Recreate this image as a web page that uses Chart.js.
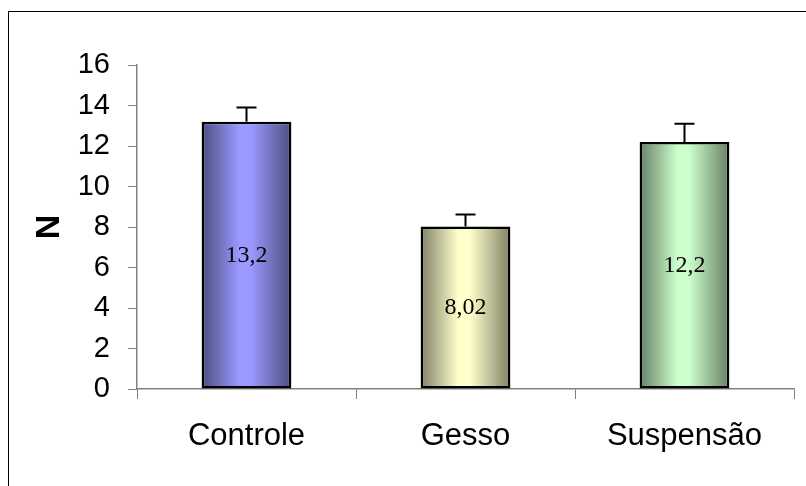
<!DOCTYPE html>
<html lang="pt">
<head>
  <meta charset="UTF-8">
  <title>N por grupo</title>
  <script src="https://cdn.jsdelivr.net/npm/chart.js"></script>
  <style>
    * {
      margin: 0;
      padding: 0;
      box-sizing: border-box;
    }
    body {
      background: white;
      overflow: hidden;
    }
  </style>
</head>
<body>
  <canvas id="forceChart" width="806" height="486"></canvas>

  <script>
    const categories = ["Controle", "Gesso", "Suspensão"];
    const means = [13.2, 8.02, 12.2];
    const errors = [0.7, 0.6, 0.9];
    const yTicks = [0, 2, 4, 6, 8, 10, 12, 14, 16];

    const lightColors = ["#9999FF", "#FFFFCC", "#CCFFCC"];
    const darkColors = ["#4D4D80", "#808066", "#668066"];

    const BAR_FRACTION = 0.41;

    // horizontal gradient, dark at the edges, light near the middle
    function barGradient(c) {
      const chart = c.chart;
      const area = chart.chartArea;
      const i = c.dataIndex;
      if (!area || i === undefined) return lightColors[i] || lightColors[0];
      const cx = chart.scales.x.getPixelForValue(i);
      const half = (area.right - area.left) / categories.length * BAR_FRACTION / 2;
      const g = chart.ctx.createLinearGradient(cx - half, 0, cx + half, 0);
      g.addColorStop(0, darkColors[i]);
      g.addColorStop(0.42, lightColors[i]);
      g.addColorStop(0.55, lightColors[i]);
      g.addColorStop(1, darkColors[i]);
      return g;
    }

    const framePlugin = {
      id: "frame",
      beforeDraw(chart) {
        const ctx = chart.ctx;
        ctx.save();
        ctx.strokeStyle = "#000";
        ctx.lineWidth = 1;
        ctx.strokeRect(8.5, 11.5, 900, 600);
        ctx.restore();
      }
    };

    const errorBarsPlugin = {
      id: "errorBars",
      afterDatasetsDraw(chart) {
        const ctx = chart.ctx;
        const y = chart.scales.y;
        const meta = chart.getDatasetMeta(0);
        ctx.save();
        ctx.strokeStyle = "#000";
        ctx.lineWidth = 2;
        meta.data.forEach((bar, i) => {
          const yTop = y.getPixelForValue(means[i] + errors[i]);
          const yBar = y.getPixelForValue(means[i]);
          ctx.beginPath();
          ctx.moveTo(bar.x, yBar);
          ctx.lineTo(bar.x, yTop);
          ctx.moveTo(bar.x - 10, yTop);
          ctx.lineTo(bar.x + 10, yTop);
          ctx.stroke();

          // value label in the middle of the bar
          const yMid = (yBar + y.getPixelForValue(0)) / 2;
          ctx.fillStyle = "#000";
          ctx.font = "24px 'Liberation Serif', 'Times New Roman', serif";
          ctx.textAlign = "center";
          ctx.textBaseline = "middle";
          ctx.fillText(String(means[i]).replace(".", ","), bar.x, yMid);
        });
        ctx.restore();
      }
    };

    new Chart(document.getElementById("forceChart"), {
      type: "bar",
      data: {
        labels: categories,
        datasets: [{
          data: means,
          backgroundColor: barGradient,
          borderColor: "#000",
          borderWidth: 2.5,
          borderSkipped: false,
          categoryPercentage: 1,
          barPercentage: BAR_FRACTION
        }]
      },
      options: {
        responsive: false,
        animation: false,
        layout: {
          padding: { top: 65, right: 12, bottom: 0, left: 0 }
        },
        plugins: {
          legend: { display: false },
          tooltip: { enabled: false }
        },
        scales: {
          x: {
            offset: true,
            grid: {
              offset: true,
              drawOnChartArea: false,
              tickLength: 10,
              color: "#808080"
            },
            border: { color: "#808080", width: 1.5 },
            ticks: {
              color: "#000",
              padding: 19,
              font: { family: "'Liberation Sans', Arial, sans-serif", size: 31 }
            },
            afterFit(scale) { scale.height = 97; }
          },
          y: {
            min: 0,
            max: 16,
            afterBuildTicks(scale) {
              scale.ticks = yTicks.map(v => ({ value: v }));
            },
            grid: {
              drawOnChartArea: false,
              tickLength: 9,
              color: "#808080"
            },
            border: { color: "#808080", width: 1.5 },
            ticks: {
              color: "#000",
              padding: 18,
              font: { family: "'Liberation Sans', Arial, sans-serif", size: 29 }
            },
            title: {
              display: true,
              text: "N",
              color: "#000",
              padding: { top: 29, bottom: 0 },
              font: { family: "'Liberation Sans', Arial, sans-serif", size: 34, weight: "bold" }
            },
            afterFit(scale) { scale.width = 137; }
          }
        }
      },
      plugins: [framePlugin, errorBarsPlugin]
    });
  </script>
</body>
</html>
